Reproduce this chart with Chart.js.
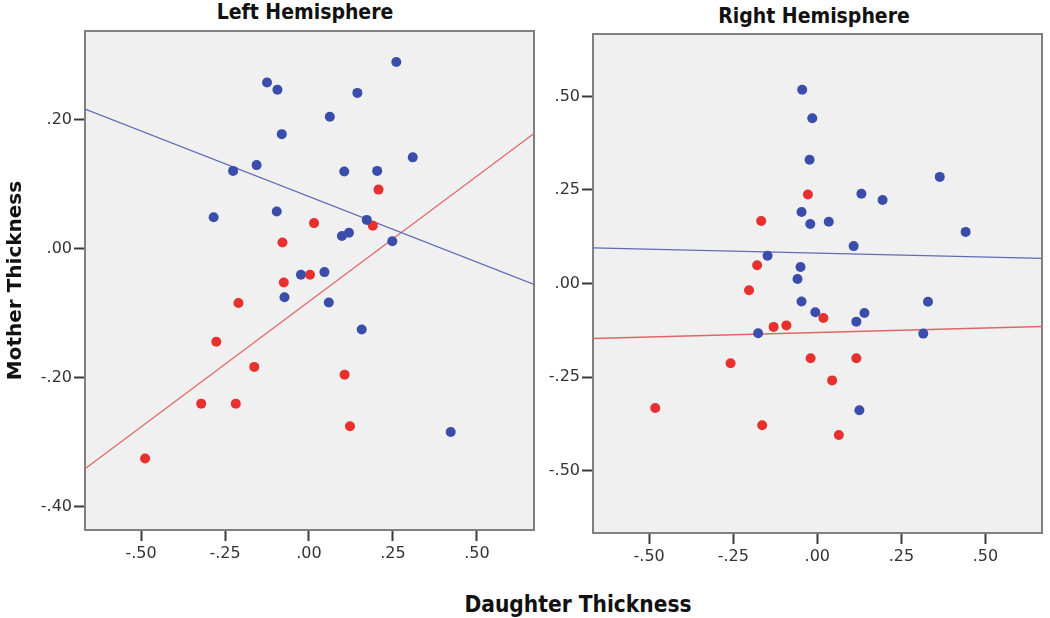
<!DOCTYPE html>
<html>
<head>
<meta charset="utf-8">
<script src="https://cdn.jsdelivr.net/npm/chart.js@4/dist/chart.umd.min.js"></script>
<style>
  body { margin: 0; background: #fff; width: 1050px; height: 618px; position: relative; overflow: hidden; }
  canvas { position: absolute; top: 0; }
  .ttl { position: absolute; font-family: "Liberation Sans Narrow", "DejaVu Sans Condensed", sans-serif; font-weight: bold; color: #111; white-space: nowrap; transform: translateX(-50%); }
</style>
</head>
<body>
<div class="ttl" style="left:305px; top:0px; font-size:21px;">Left Hemisphere</div>
<div class="ttl" style="left:814px; top:4px; font-size:21px;">Right Hemisphere</div>
<div class="ttl" style="left:578px; top:591px; font-size:22.5px;">Daughter Thickness</div>
<canvas id="left" width="540" height="580" style="left:0px"></canvas>
<canvas id="right" width="510" height="580" style="left:540px"></canvas>
<script>
// axis ranges and ticks
const xTicks = [-0.5, -0.25, 0, 0.25, 0.5];
const leftYTicks = [-0.4, -0.2, 0, 0.2];
const rightYTicks = [-0.5, -0.25, 0, 0.25, 0.5];
const leftXRange = [-0.667, 0.67];
const leftYRange = [-0.436, 0.338];
const rightXRange = [-0.667, 0.668];
const rightYRange = [-0.667, 0.667];

// Left hemisphere points [daughter, mother]
const leftBlue = [[0.26,0.29],[-0.125,0.258],[-0.094,0.247],[0.144,0.242],[0.062,0.205],[-0.081,0.178],
  [0.309,0.142],[-0.156,0.130],[-0.226,0.121],[0.105,0.120],[0.203,0.121],[-0.284,0.049],[-0.096,0.058],
  [0.172,0.045],[0.098,0.020],[0.119,0.025],[0.248,0.012],[-0.024,-0.040],[0.046,-0.036],[-0.073,-0.075],
  [0.059,-0.083],[0.157,-0.125],[0.422,-0.284]];
const leftRed = [[0.207,0.092],[0.015,0.040],[0.19,0.036],[-0.079,0.010],[0.003,-0.040],[-0.075,-0.052],
  [-0.21,-0.084],[-0.276,-0.144],[-0.163,-0.183],[0.106,-0.195],[-0.321,-0.240],[-0.218,-0.240],
  [0.122,-0.275],[-0.488,-0.325]];
const leftBlueFit = [[-0.667,0.217],[0.67,-0.055]];
const leftRedFit = [[-0.667,-0.341],[0.67,0.179]];

// Right hemisphere points
const rightBlue = [[-0.045,0.518],[-0.015,0.442],[-0.023,0.331],[0.364,0.285],[0.131,0.240],[0.194,0.223],
  [-0.047,0.191],[-0.021,0.159],[0.034,0.165],[0.441,0.138],[0.108,0.100],[-0.148,0.074],[-0.050,0.044],
  [-0.059,0.012],[-0.047,-0.048],[-0.006,-0.077],[0.116,-0.102],[0.140,-0.079],[-0.176,-0.133],
  [0.329,-0.049],[0.315,-0.134],[0.125,-0.339]];
const rightRed = [[-0.028,0.238],[-0.167,0.167],[-0.179,0.049],[-0.203,-0.018],[0.018,-0.092],[-0.130,-0.116],
  [-0.092,-0.112],[-0.258,-0.213],[-0.020,-0.200],[0.116,-0.200],[0.044,-0.259],[-0.482,-0.333],
  [-0.164,-0.379],[0.064,-0.405]];
const rightBlueFit = [[-0.667,0.095],[0.668,0.067]];
const rightRedFit = [[-0.667,-0.147],[0.668,-0.115]];

const blue = '#3a4dab';
const red = '#e8302e';

const toXY = arr => arr.map(p => ({ x: p[0], y: p[1] }));
const fmt = v => v.toFixed(2).replace('0.', '.');

// light grey plot area and grey frame
const framePlugin = {
  id: 'frame',
  beforeDatasetsDraw(chart) {
    const a = chart.chartArea, ctx = chart.ctx;
    ctx.save();
    ctx.fillStyle = '#f0f0f0';
    ctx.fillRect(a.left, a.top, a.right - a.left, a.bottom - a.top);
    ctx.strokeStyle = '#808080';
    ctx.lineWidth = 2;
    ctx.strokeRect(a.left, a.top, a.right - a.left, a.bottom - a.top);
    ctx.restore();
  }
};

Chart.defaults.font.family = '"DejaVu Sans", sans-serif';
Chart.defaults.font.size = 16;
Chart.defaults.color = '#222';

const tickGrid = { display: true, drawOnChartArea: false, drawTicks: true, tickLength: 11, tickColor: '#3a3a3a', tickWidth: 2 };

function makePanel(id, blues, reds, blueFit, redFit, xr, yr, yTicks, pad, yWidth, xHeight, yTitle) {
  new Chart(document.getElementById(id), {
    type: 'scatter',
    data: {
      datasets: [
        { data: toXY(blues), backgroundColor: blue, borderWidth: 0, pointRadius: 5 },
        { data: toXY(reds), backgroundColor: red, borderWidth: 0, pointRadius: 5 },
        { type: 'line', data: toXY(blueFit), borderColor: '#5f6bb3', borderWidth: 1.3, pointRadius: 0, fill: false },
        { type: 'line', data: toXY(redFit), borderColor: '#e06666', borderWidth: 1.3, pointRadius: 0, fill: false }
      ]
    },
    options: {
      responsive: false,
      animation: false,
      layout: { padding: pad },
      plugins: { legend: { display: false }, tooltip: { enabled: false } },
      scales: {
        x: {
          type: 'linear', min: xr[0], max: xr[1],
          afterBuildTicks: s => { s.ticks = xTicks.map(v => ({ value: v })); },
          afterFit: s => { s.height = xHeight; },
          border: { display: false },
          grid: tickGrid,
          ticks: { callback: fmt, padding: 3, maxRotation: 0, color: '#333' }
        },
        y: {
          type: 'linear', min: yr[0], max: yr[1],
          afterBuildTicks: s => { s.ticks = yTicks.map(v => ({ value: v })); },
          afterFit: s => { s.width = yWidth; },
          border: { display: false },
          grid: tickGrid,
          ticks: { callback: fmt, padding: 2, color: '#333' },
          title: {
            display: !!yTitle, text: yTitle || '',
            font: { size: 20, weight: 'bold' }, color: '#111', padding: { top: 4, bottom: 0 }
          }
        }
      }
    },
    plugins: [framePlugin]
  });
}

makePanel('left', leftBlue, leftRed, leftBlueFit, leftRedFit, leftXRange, leftYRange, leftYTicks,
  { left: 0, top: 31, right: 6, bottom: 0 }, 85, 50, 'Mother Thickness');
makePanel('right', rightBlue, rightRed, rightBlueFit, rightRedFit, rightXRange, rightYRange, rightYTicks,
  { left: 0, top: 34, right: 8, bottom: 0 }, 53, 47, null);
</script>
</body>
</html>
